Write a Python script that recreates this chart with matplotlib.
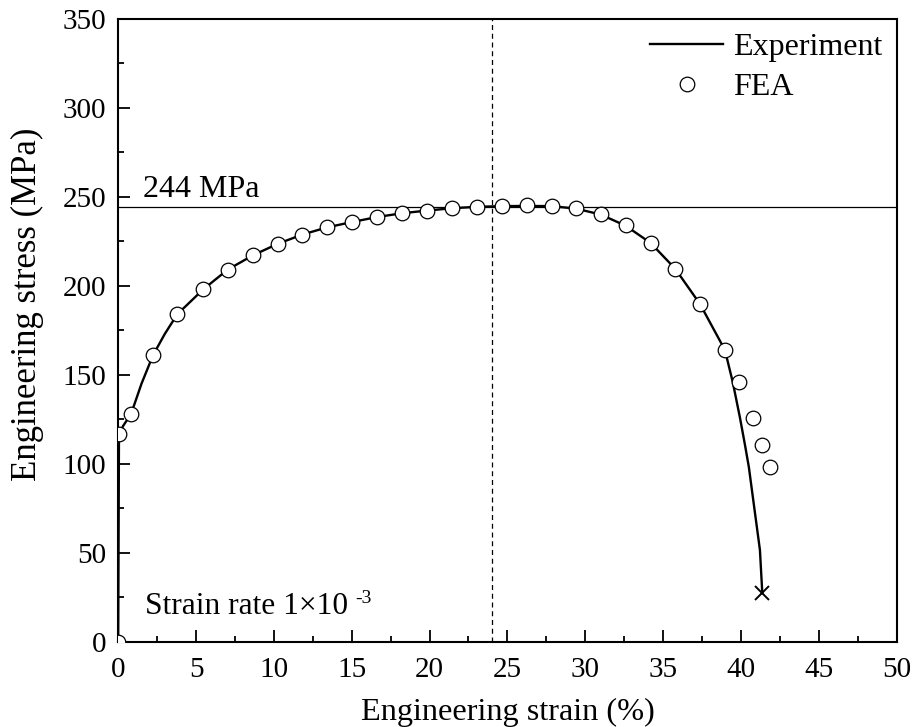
import matplotlib
matplotlib.use("Agg")
import matplotlib.pyplot as plt
from matplotlib.ticker import MultipleLocator

plt.rcParams['font.family'] = ['Liberation Serif', 'DejaVu Serif']
plt.rcParams['font.size'] = 20.7

# Experiment curve (engineering strain %, engineering stress MPa)
exp_strain = [0, 0.05, 0.3, 0.83, 1.5, 2.24, 3.0, 3.8, 5.47, 7.03, 8.64, 10.24, 11.82,
              13.43, 15.04, 16.64, 18.23, 19.83, 21.42, 23.02, 24.63, 26.24, 27.84,
              29.4, 30.99, 32.59, 34.2, 35.78, 37.37, 38.97, 39.47, 39.94, 40.26,
              40.51, 40.79, 41.22, 41.37]
exp_stress = [0, 115, 121, 128, 145, 161, 173, 184, 198, 209, 217, 223.5, 228.7,
              232.8, 235.8, 238.6, 240.7, 242.2, 243.5, 244.3, 244.7, 244.8, 244.7,
              243.3, 240, 233.7, 224, 209.5, 189.7, 163.9, 146, 125.7, 110.5,
              98, 79.6, 51.5, 27.5]

# FEA points
fea_strain = [0, 0.05, 0.83, 2.24, 3.80, 5.47, 7.03, 8.64, 10.24, 11.82, 13.43, 15.04,
              16.64, 18.23, 19.83, 21.42, 23.02, 24.63, 26.24, 27.84, 29.4, 30.99,
              32.59, 34.2, 35.78, 37.37, 38.97, 39.89, 40.75, 41.37, 41.86]
fea_stress = [0, 116.5, 128.1, 161, 183.9, 198.1, 208.8, 217.2, 223.4, 228.7, 232.8,
              235.8, 238.6, 240.7, 242.2, 243.5, 244.4, 244.9, 245.2, 244.9, 243.5,
              240.1, 233.9, 224.2, 209.6, 189.7, 163.9, 145.9, 125.7, 110.5, 98.3]

uts = 244
uts_strain = 24
fracture = (41.37, 27.5)

fig = plt.figure(figsize=(9.14, 7.27), dpi=100)
ax = fig.add_axes([0.1293, 0.1173, 0.981 - 0.1293, 0.9743 - 0.1173])

ax.axhline(uts, color='black', lw=0.9, zorder=1)
ax.axvline(uts_strain, color='black', lw=0.9, ls=(0, (4, 3)), zorder=1)

ax.plot(exp_strain, exp_stress, color='black', lw=1.7, label='Experiment', zorder=2)
ax.plot(fea_strain, fea_stress, ls='none', marker='o', ms=10.5, mfc='white',
        mec='black', mew=0.9, label='FEA', zorder=3)
ax.plot([fracture[0]], [fracture[1]], ls='none', marker='x', ms=10, mew=1.4,
        color='black', zorder=4)

ax.set_xlim(0, 50)
ax.set_ylim(0, 350)
ax.xaxis.set_major_locator(MultipleLocator(5))
ax.xaxis.set_minor_locator(MultipleLocator(2.5))
ax.yaxis.set_major_locator(MultipleLocator(50))
ax.yaxis.set_minor_locator(MultipleLocator(25))
ax.tick_params(which='both', direction='in', top=False, right=False, width=1.3)
ax.tick_params(which='major', length=8.6, labelsize=21)
ax.tick_params(axis='x', which='major', pad=11)
ax.tick_params(axis='y', which='major', pad=8.5)
ax.tick_params(which='minor', length=4.3)
for s in ax.spines.values():
    s.set_linewidth(1.5)

ax.set_xlabel('Engineering strain (%)', fontsize=23.2)
ax.xaxis.label.set_verticalalignment('baseline')
ax.xaxis.set_label_coords(0.5, (641.7 - 720) / 623.0)
ax.set_ylabel('Engineering stress (MPa)', fontsize=25)
ax.yaxis.set_label_coords((44 - 118.2) / 778.3, 0.541)

ax.text(1.61, 250, '244 MPa', fontsize=23, ha='left', va='baseline')
ax.text(1.72, 15.6, 'Strain rate 1\u00d710', fontsize=22.7, ha='left', va='baseline')
ax.text(15.2, 21.8, '-3', fontsize=14, ha='left', va='baseline')

leg = ax.legend(loc='upper right', frameon=False, handlelength=2.3, handletextpad=0.3,
                borderpad=0.2, borderaxespad=0.25, labelspacing=0.32, fontsize=23)

fig.savefig('out.png', dpi=100)
